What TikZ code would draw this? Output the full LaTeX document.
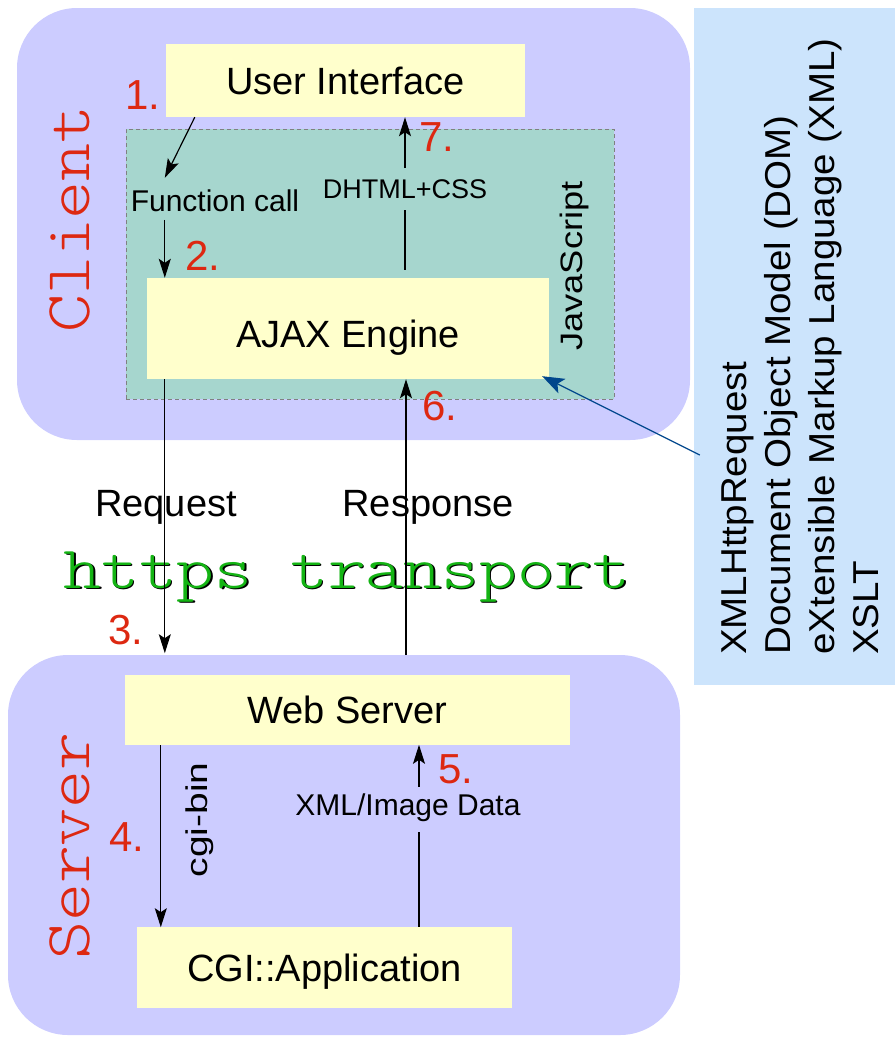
\documentclass[tikz,border=0pt]{standalone}
\usepackage{fontspec}
\setmainfont{Liberation Sans}
\newfontfamily\courfont{lmmonolt10-regular.otf}
\usepackage{graphicx}
\usetikzlibrary{arrows.meta}
\definecolor{lavender}{RGB}{204,204,255}
\definecolor{paleyellow}{RGB}{255,255,204}
\definecolor{jsteal}{RGB}{166,214,206}
\definecolor{infoblue}{RGB}{204,228,252}
\definecolor{numred}{RGB}{221,40,17}
\definecolor{netgreen}{RGB}{20,180,20}
\definecolor{linkblue}{RGB}{0,70,140}

\begin{document}
\begin{tikzpicture}[
  x=1pt, y=-1pt,
  group/.style={rectangle, fill=lavender, rounded corners=60pt, inner sep=0pt},
  jsarea/.style={rectangle, fill=jsteal, draw=gray, dash pattern=on 4pt off 3pt, line width=0.8pt, inner sep=0pt},
  box/.style={rectangle, fill=paleyellow, inner sep=0pt, text height=27pt, text depth=0pt, font=\fontsize{38}{44}\selectfont},
  lbl/.style={inner sep=0pt, font=\fontsize{30}{36}\selectfont},
  num/.style={inner sep=0pt, text=numred, font=\fontsize{42}{48}\selectfont},
  mono/.style={inner sep=0pt, font=\fontsize{64}{72}\courfont},
  arrow/.style={-{Stealth[length=19pt,width=12pt,inset=4pt]}, line width=1.2pt},
  link/.style={-{Stealth[length=22pt,width=16pt,inset=5pt]}, line width=1.3pt, draw=linkblue}
]
  \useasboundingbox (0,0) rectangle (895,1037);

  \node[group, minimum width=673, minimum height=432] (client) at (353.5,224) {};
  \node[group, minimum width=672, minimum height=380] (server) at (344,845) {};
  \node[rectangle, fill=infoblue, inner sep=0pt, minimum width=201, minimum height=677] (info) at (794.5,346.5) {};
  \node[jsarea, minimum width=488, minimum height=270] (js) at (370,264) {};

  \node[box, minimum width=359, minimum height=73] (ui) at (345.5,80.5) {User Interface};
  \node[box, minimum width=402, minimum height=101, text height=37pt] (ajax) at (348,328.5) {AJAX Engine};
  \node[box, minimum width=445, minimum height=70] (web) at (347.5,710) {Web Server};
  \node[box, minimum width=375, minimum height=81] (cgi) at (324.5,967.5) {CGI::Application};

  \node[lbl] (fcall) at (215,201) {Function call};
  \node[lbl, font=\fontsize{27}{32}\selectfont] (dhtml) at (405,189) {DHTML+CSS};
  \node[lbl, font=\fontsize{31}{36}\selectfont, rotate=90] (jscript) at (574,266) {\scalebox{1.17}[1]{JavaScript}};
  \node[lbl, font=\fontsize{38}{44}\selectfont] (request) at (166,507) {Request};
  \node[lbl, font=\fontsize{38}{44}\selectfont] (response) at (428,507) {Response};
  \node[lbl, font=\fontsize{30}{36}\selectfont, rotate=90] (cgibin) at (200,820) {\scalebox{1.3}[1]{cgi-bin}};
  \node[lbl] (xmldata) at (408,808) {XML/Image Data};
  \node[inner sep=0pt, rotate=90, anchor=north west, align=left, font=\fontsize{36}{44}\selectfont] (infotext) at (722,655)
    {\scalebox{1.07}[1]{XMLHttpRequest}\\\scalebox{1.07}[1]{Document Object Model (DOM)}\\\scalebox{1.07}[1]{eXtensible Markup Language (XML)}\\\scalebox{1.07}[1]{XSLT}};

  \node[mono, text=numred, rotate=90] (clientlbl) at (70,219) {\scalebox{1.13}[1]{Client}};
  \node[mono, text=numred, rotate=90] (serverlbl) at (70,846) {\scalebox{1.13}[1]{Server}};
  \node[mono, font=\fontsize{60}{70}\courfont, anchor=base, text=black] (httpsshadow) at (348.5,589.5) {\scalebox{1.2}[1]{https transport}};
  \node[mono, font=\fontsize{60}{70}\courfont, anchor=base, text=netgreen] (https) at (347,588) {\scalebox{1.2}[1]{https transport}};

  \node[num] (n1) at (143,95) {1.};
  \node[num] (n2) at (203,256) {2.};
  \node[num] (n3) at (126,630) {3.};
  \node[num] (n4) at (127,837) {4.};
  \node[num] (n5) at (456,769) {5.};
  \node[num] (n6) at (440,406) {6.};
  \node[num] (n7) at (437,137) {7.};

  \draw[arrow] ([xshift=29pt]ui.south west) -- ([xshift=18pt,yshift=100pt]ajax.north west);
  \draw[arrow] ([xshift=18pt,yshift=58pt]ajax.north west) -- ([xshift=18pt]ajax.north west);
  \draw[line width=1.2pt] ([xshift=57pt,yshift=8pt]ajax.north) -- ([xshift=57pt,yshift=68pt]ajax.north);
  \draw[arrow] ([xshift=59.5pt,yshift=-51pt]ui.south) -- ([xshift=59.5pt]ui.south);
  \draw[arrow] ([xshift=18pt]ajax.south west) -- ([xshift=18pt,yshift=-274pt]ajax.south west);
  \draw[arrow] ([xshift=58pt,yshift=-276pt]ajax.south) -- ([xshift=58pt]ajax.south);
  \draw[arrow] ([xshift=36pt]web.south west) -- ([xshift=36pt,yshift=-182pt]web.south west);
  \draw[line width=1.2pt] ([xshift=94.5pt]cgi.north) -- ([xshift=94.5pt,yshift=95pt]cgi.north);
  \draw[arrow] ([xshift=94.5pt,yshift=140pt]cgi.north) -- ([xshift=94.5pt,yshift=182pt]cgi.north);
  \draw[link] ([xshift=6pt,yshift=-108.5pt]info.west) -- ([xshift=-7pt,yshift=3pt]ajax.south east);
\end{tikzpicture}
\end{document}
